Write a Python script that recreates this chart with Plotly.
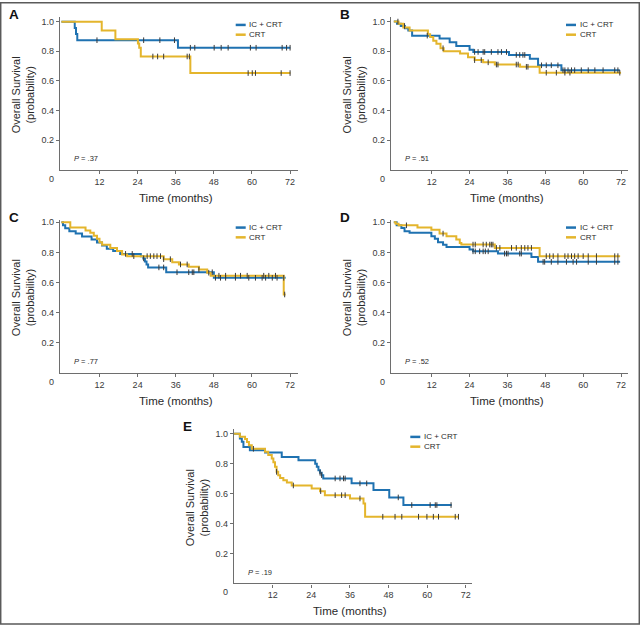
import numpy as np
import plotly.graph_objects as go

# ---------------- data ----------------
panels = ["A", "B", "C", "D", "E"]
p_values = ["37", "51", "77", "52", "19"]
series_names = ["IC + CRT", "CRT"]
x_tick_vals = [12, 24, 36, 48, 60, 72]
y_tick_vals = [0.2, 0.4, 0.6, 0.8, 1.0]

A_ic_t = [0, 4.2, 4.6, 5.0, 36.7, 72.1]
A_ic_s = [1.0, 0.958, 0.917, 0.875, 0.824, 0.824]
A_crt_t = [0, 12.7, 17.0, 24.1, 24.5, 25.0, 40.6, 72.1]
A_crt_s = [1.0, 0.941, 0.882, 0.853, 0.824, 0.765, 0.653, 0.653]
A_ic_c = [11.2, 25.9, 31.0, 35.6, 40.6, 42.0, 48.1, 50.3, 52.5, 59.5, 61.3, 69.5, 70.9, 72.0]
A_crt_c = [28.8, 30.3, 32.2, 39.6, 40.3, 58.8, 60.1, 61.1, 69.2, 72.0]

B_ic_t = [0, 1.0, 2.2, 3.5, 4.6, 5.8, 14.5, 17.7, 19.8, 24.0, 25.2, 36.5, 43.1, 45.7, 53.1, 71.6]
B_ic_s = [1.0, 0.985, 0.97, 0.955, 0.94, 0.905, 0.885, 0.86, 0.835, 0.81, 0.795, 0.775, 0.75, 0.705, 0.672, 0.672]
B_crt_t = [0, 1.5, 3.0, 5.0, 10.8, 11.5, 12.5, 13.5, 14.8, 15.8, 21.0, 23.5, 25.6, 28.3, 32.0, 40.0, 46.2, 72.0]
B_crt_s = [1.0, 0.985, 0.96, 0.94, 0.915, 0.895, 0.87, 0.85, 0.82, 0.80, 0.785, 0.76, 0.74, 0.725, 0.71, 0.695, 0.655, 0.655]
B_ic_c = [3.4, 10.6, 25.6, 26.7, 28.3, 28.8, 30.9, 33.0, 34.1, 35.7, 38.8, 39.9, 40.9, 41.5, 46.8, 48.3,
          49.9, 52.0, 53.6, 54.2, 55.2, 56.3, 57.3, 59.4, 61.6, 63.7, 66.3, 70.0, 71.0]
B_crt_c = [1.3, 15.6, 25.6, 27.7, 29.9, 32.5, 33.0, 38.8, 39.4, 42.0, 42.5, 48.3, 51.5, 54.2, 55.8, 71.6]

C_ic_t = [0, 0.5, 1.2, 2.5, 4.5, 6.5, 9.5, 11.2, 12.8, 14.3, 16.3, 18.5, 25.0, 25.8, 26.3, 26.8, 27.3, 33.0, 48.0, 70.6]
C_ic_s = [1.0, 0.98, 0.96, 0.94, 0.925, 0.905, 0.885, 0.865, 0.845, 0.825, 0.81, 0.79, 0.775, 0.76, 0.74, 0.72, 0.70, 0.668, 0.631, 0.631]
C_crt_t = [0, 2.8, 7.6, 9.1, 10.2, 11.2, 12.0, 12.8, 15.4, 17.5, 19.1, 20.7, 32.2, 34.9, 37.0, 40.1, 43.3, 45.9, 47.0, 70.0, 70.6]
C_crt_s = [1.0, 0.965, 0.946, 0.93, 0.91, 0.89, 0.868, 0.85, 0.83, 0.81, 0.786, 0.775, 0.755, 0.735, 0.72, 0.705, 0.686, 0.665, 0.645, 0.52, 0.52]
C_ic_c = [20.2, 22.3, 25.9, 30.7, 32.2, 36.4, 40.1, 41.2, 41.7, 47.5, 48.5, 50.1, 51.7, 54.8, 59.0, 61.1, 63.2, 64.3, 66.4, 67.9, 70.0]
C_crt_c = [22.8, 27.0, 28.0, 29.1, 30.1, 31.2, 32.2, 34.3, 37.5, 39.6, 43.3, 46.4, 49.6, 51.7, 54.8, 56.4, 58.5, 63.7, 65.3, 67.4, 70.3]

D_ic_t = [0, 0.9, 2.4, 3.4, 5.0, 11.9, 13.0, 14.0, 15.6, 16.7, 24.0, 25.1, 33.0, 43.6, 45.7, 71.7]
D_ic_s = [1.0, 0.98, 0.962, 0.94, 0.93, 0.907, 0.89, 0.867, 0.85, 0.836, 0.82, 0.807, 0.792, 0.77, 0.737, 0.737]
D_crt_t = [0, 0.6, 1.5, 7.5, 11.9, 14.5, 16.7, 19.8, 20.9, 21.4, 32.0, 46.2, 71.7]
D_crt_s = [1.0, 0.99, 0.98, 0.965, 0.95, 0.925, 0.907, 0.885, 0.863, 0.852, 0.83, 0.775, 0.775]
D_ic_c = [25.1, 25.8, 27.2, 28.3, 29.0, 29.9, 35.1, 35.7, 36.2, 39.9, 40.4, 47.3, 47.8, 49.9, 52.0, 54.7,
          56.8, 57.9, 61.6, 64.2, 70.0, 71.0]
D_crt_c = [4.0, 15.6, 25.1, 25.8, 28.3, 29.3, 30.4, 30.9, 31.4, 32.5, 33.6, 37.3, 38.8, 40.4, 41.5, 42.5,
           43.6, 48.3, 49.4, 50.5, 52.0, 54.2, 55.2, 56.3, 57.3, 58.4, 60.0, 61.6, 64.2, 70.0, 71.0]

E_ic_t = [0, 1.8, 2.4, 2.9, 4.9, 9.6, 14.8, 20.0, 25.2, 25.7, 26.2, 26.7, 27.2, 27.7, 36.5, 43.3, 48.2, 52.6, 67.6]
E_ic_s = [1.0, 0.969, 0.947, 0.913, 0.89, 0.875, 0.846, 0.824, 0.80, 0.78, 0.757, 0.74, 0.724, 0.702, 0.669, 0.624, 0.575, 0.524, 0.524]
E_crt_t = [0, 1.8, 3.4, 4.0, 4.6, 5.5, 9.6, 10.6, 11.7, 12.2, 12.7, 13.2, 13.7, 14.3, 15.3, 16.4, 17.9, 24.1,
           26.7, 28.2, 36.0, 40.2, 40.7, 69.7]
E_crt_s = [1.0, 0.98, 0.965, 0.946, 0.924, 0.90, 0.88, 0.858, 0.835, 0.81, 0.78, 0.746, 0.724, 0.705, 0.69,
           0.675, 0.655, 0.635, 0.617, 0.59, 0.568, 0.535, 0.446, 0.446]
E_ic_c = [26.7, 27.2, 31.4, 32.9, 34.0, 34.5, 39.1, 41.2, 51.0, 55.2, 60.9, 62.5, 63.0, 67.4]
E_crt_c = [6.0, 13.2, 18.4, 26.9, 31.4, 33.4, 34.5, 39.1, 46.2, 50.0, 52.1, 57.3, 59.9, 61.9, 63.5, 68.7, 69.7]

curves = {
    "A": [(A_ic_t, A_ic_s, A_ic_c), (A_crt_t, A_crt_s, A_crt_c)],
    "B": [(B_ic_t, B_ic_s, B_ic_c), (B_crt_t, B_crt_s, B_crt_c)],
    "C": [(C_ic_t, C_ic_s, C_ic_c), (C_crt_t, C_crt_s, C_crt_c)],
    "D": [(D_ic_t, D_ic_s, D_ic_c), (D_crt_t, D_crt_s, D_crt_c)],
    "E": [(E_ic_t, E_ic_s, E_ic_c), (E_crt_t, E_crt_s, E_crt_c)],
}

# ---------------- layout geometry (pixels) ----------------
W, H = 640, 626
COLORS = ["#1f72b1", "#e4b52c"]
FONT = "Liberation Sans, Arial, sans-serif"
AX = "#6e6e6e"

geom = {
    "A": dict(l=60, r=297.7, t=15, b=168.3, xr=[-0.44, 74.4], ym=1.032),
    "B": dict(l=391, r=628, t=15, b=168.4, xr=[-0.89, 74.2], ym=1.031),
    "C": dict(l=60, r=297.7, t=218.3, b=371.9, xr=[-0.44, 74.4], ym=1.018),
    "D": dict(l=391, r=628, t=218.3, b=371.9, xr=[-0.89, 74.2], ym=1.018),
    "E": dict(l=234, r=472.3, t=428.3, b=583.3, xr=[-0.03, 74.0], ym=1.033),
}


def px(x):
    return x / W


def py(y):
    return 1 - y / H


def step_value(t, s, c):
    t = np.asarray(t)
    s = np.asarray(s)
    idx = np.searchsorted(t, np.asarray(c), side="right") - 1
    return s[np.clip(idx, 0, len(s) - 1)]


fig = go.Figure()
annotations = []
shapes = []

for i, p in enumerate(panels):
    g = geom[p]
    n = "" if i == 0 else str(i + 1)
    xa, ya = "x" + n, "y" + n
    for k, (t, s, c) in enumerate(curves[p]):
        fig.add_trace(go.Scatter(x=t, y=s, mode="lines", line=dict(color=COLORS[k], width=2, shape="hv"),
                                 xaxis=xa, yaxis=ya, showlegend=False, hoverinfo="skip"))
    for k, (t, s, c) in enumerate(curves[p]):
        fig.add_trace(go.Scatter(x=c, y=step_value(t, s, c), mode="markers",
                                 marker=dict(symbol="line-ns", size=4, line=dict(color="#3a3a3a", width=1)),
                                 xaxis=xa, yaxis=ya, showlegend=False, hoverinfo="skip"))

    common = dict(showgrid=False, zeroline=False, showline=True, linecolor=AX, linewidth=1.3,
                  ticks="outside", ticklen=3, tickwidth=1, tickcolor=AX,
                  tickfont=dict(family=FONT, size=9, color="#3a3a3a"))
    fig.layout["xaxis" + n] = dict(domain=[px(g["l"]), px(g["r"])], range=g["xr"], anchor=ya,
                                   tickvals=x_tick_vals, **common)
    fig.layout["yaxis" + n] = dict(domain=[py(g["b"]), py(g["t"])], range=[0, g["ym"]], anchor=xa,
                                   tickvals=y_tick_vals, tickformat=".1f", **common)

    ymid = (g["t"] + g["b"]) / 2

    annotations.append(dict(x=px(g["l"] - 9), y=py(g["b"] + 9), xref="paper", yref="paper", text="0",
                            showarrow=False, font=dict(family=FONT, size=9, color="#3a3a3a"),
                            xanchor="center", yanchor="middle"))
    annotations.append(dict(x=px((g["l"] + g["r"]) / 2 - 3), y=py(g["b"] + 28), xref="paper", yref="paper",
                            text="Time (months)", showarrow=False,
                            font=dict(family=FONT, size=11.5, color="#2a2a2a"),
                            xanchor="center", yanchor="middle"))
    annotations.append(dict(x=px(g["l"] - 37), y=py(ymid + 2), xref="paper", yref="paper",
                            text="Overall Survival<br>(probability)", showarrow=False, textangle=-90,
                            font=dict(family=FONT, size=11, color="#2a2a2a"),
                            xanchor="center", yanchor="middle"))
    annotations.append(dict(x=px(g["l"] - 46.5), y=py(g["t"] - 2), xref="paper", yref="paper",
                            text="<b>%s</b>" % p, showarrow=False,
                            font=dict(family=FONT, size=13.5, color="#111"),
                            xanchor="center", yanchor="middle"))
    annotations.append(dict(x=px(g["l"] + 12), y=py(g["b"] - 11), xref="paper", yref="paper",
                            text="<i>P</i> = .%s" % p_values[i], showarrow=False,
                            font=dict(family=FONT, size=7.5, color="#2a2a2a"),
                            xanchor="left", yanchor="middle"))
    lx = g["r"] - 62
    ly = g["t"] + 8
    for k, name in enumerate(series_names):
        yy = ly + k * 9.8
        shapes.append(dict(type="line", xref="paper", yref="paper", x0=px(lx), x1=px(lx + 10),
                           y0=py(yy), y1=py(yy), line=dict(color=COLORS[k], width=2.5)))
        annotations.append(dict(x=px(lx + 11.5), y=py(yy), xref="paper", yref="paper", text=name,
                                showarrow=False, font=dict(family=FONT, size=8, color="#2a2a2a"),
                                xanchor="left", yanchor="middle"))

shapes.append(dict(type="rect", xref="paper", yref="paper", x0=px(0.7), x1=px(639.3), y0=py(624), y1=py(0.7),
                   line=dict(color="#5a5a5a", width=1.5), fillcolor="rgba(0,0,0,0)"))

fig.update_layout(width=W, height=H, margin=dict(l=0, r=0, t=0, b=0),
                  paper_bgcolor="white", plot_bgcolor="white",
                  annotations=annotations, shapes=shapes, showlegend=False)

fig.write_html("out.html", config={"displayModeBar": False},
               post_script="document.body.style.margin='0';document.body.style.overflow='hidden';")
